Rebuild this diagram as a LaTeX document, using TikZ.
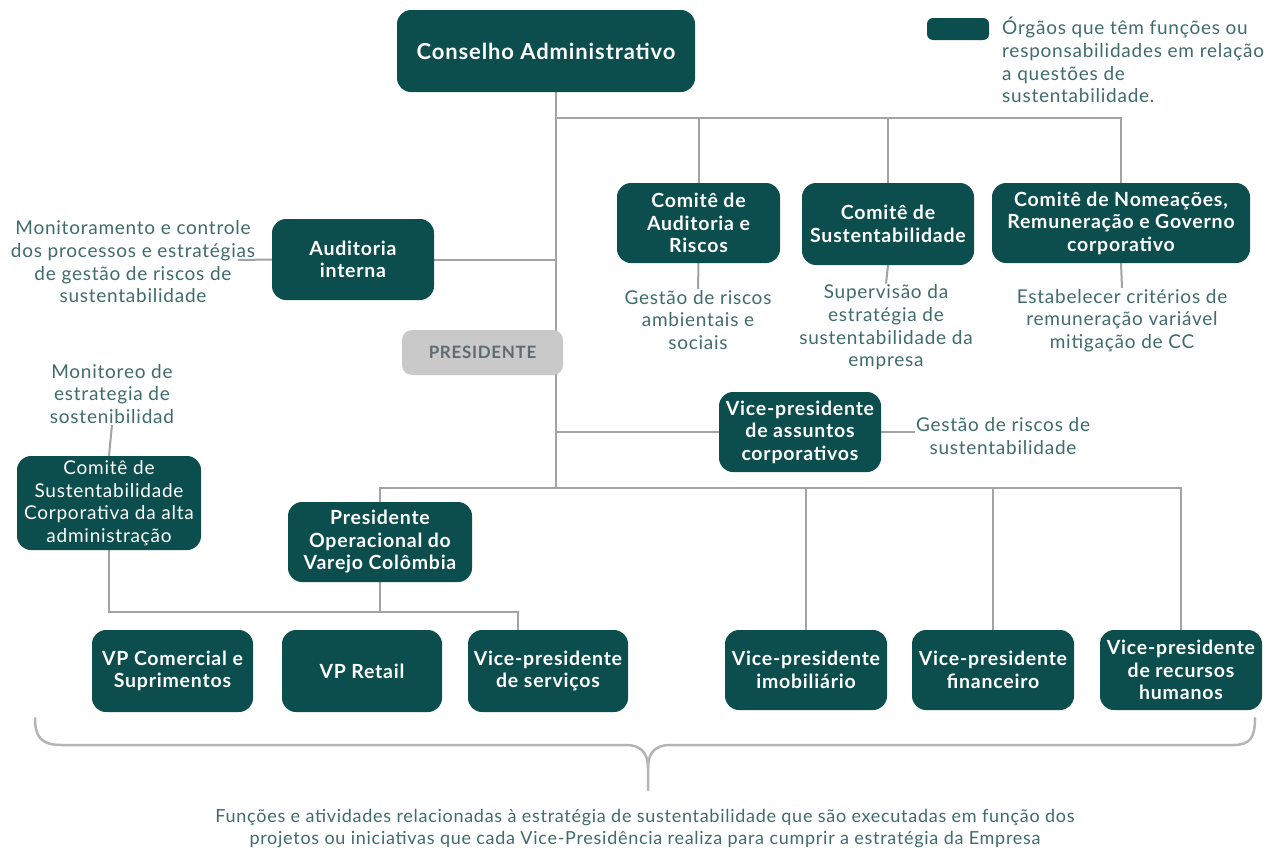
\documentclass[tikz,border=0pt]{standalone}
\usepackage{fontspec}
\setmainfont{Lato}[LetterSpace=4]
\usetikzlibrary{backgrounds}
\definecolor{teal1}{HTML}{0C4E4E}
\definecolor{anntext}{HTML}{3F6B6B}
\definecolor{linegrey}{HTML}{A3A3A3}
\definecolor{presgrey}{HTML}{C9C9C9}
\definecolor{prestext}{HTML}{5E6A70}
\begin{document}
\begin{tikzpicture}[x=1pt,y=-1pt,
 box/.style={rounded corners=14pt, fill=teal1, text=white, align=center, inner sep=0pt, font=\bfseries\fontsize{19.5}{22.5}\selectfont},
 ann/.style={align=center, text=anntext, inner sep=1pt, font=\fontsize{19}{22.7}\selectfont},
 conn/.style={draw=linegrey, line width=2pt},
 bracestyle/.style={draw=linegrey!80, line width=2.5pt, line cap=round},
]
\useasboundingbox (0,0) rectangle (1269,852);

% boxes
\node[box, minimum width=298, minimum height=82, font=\bfseries\fontsize{22}{25}\selectfont] (cons) at (546,51) {Conselho Administrativo};
\node[box, rounded corners=6pt, minimum width=62, minimum height=22] (legbox) at (958,29) {};
\node[ann, align=left, anchor=west] (legtxt) at (1001,60) {Órgãos que têm funções ou\\responsabilidades em relação\\a questões de\\sustentabilidade.};

\node[box, minimum width=163, minimum height=80] (aud) at (698.5,223) {Comitê de\\Auditoria e\\Riscos};
\node[box, minimum width=172, minimum height=82] (sus) at (888,224) {Comitê de\\Sustentabilidade};
\node[box, minimum width=258, minimum height=80] (nom) at (1121,223) {Comitê de Nomeações,\\Remuneração e Governo\\corporativo};
\node[box, minimum width=162, minimum height=81] (ai) at (353,259.5) {Auditoria\\interna};
\node[box, fill=presgrey, text=prestext, rounded corners=10pt, minimum width=161, minimum height=45, font=\bfseries\fontsize{17}{20}\selectfont] (pres) at (482.5,352.5) {PRESIDENTE};
\node[box, minimum width=162, minimum height=80] (vpac) at (800,432) {Vice-presidente\\de assuntos\\corporativos};
\node[box, minimum width=184, minimum height=94, font=\fontsize{19}{22.5}\selectfont] (csc) at (109,503) {Comitê de\\Sustentabilidade\\Corporativa da alta\\administração};
\node[box, minimum width=184, minimum height=80] (po) at (380,542) {Presidente\\Operacional do\\Varejo Colômbia};

\node[box, minimum width=161, minimum height=82] (vpcs) at (172.5,671) {VP Comercial e\\Suprimentos};
\node[box, minimum width=160, minimum height=82] (vpr) at (362,671) {VP Retail};
\node[box, minimum width=160, minimum height=82] (vps) at (548,671) {Vice-presidente\\de serviços};
\node[box, minimum width=162, minimum height=80] (vpi) at (806,670) {Vice-presidente\\imobiliário};
\node[box, minimum width=162, minimum height=80] (vpf) at (993,670) {Vice-presidente\\financeiro};
\node[box, minimum width=162, minimum height=80] (vprh) at (1181,670) {Vice-presidente\\de recursos\\humanos};

% annotations
\node[ann] (annai) at (133,262) {Monitoramento e controle\\dos processos e estratégias\\de gestão de riscos de\\sustentabilidade};
\node[ann] (annaud) at (698,320) {Gestão de riscos\\ambientais e\\sociais};
\node[ann] (annsus) at (886,327.5) {Supervisão da\\estratégia de\\sustentabilidade da\\empresa};
\node[ann] (annnom) at (1122,320.5) {Estabelecer critérios de\\remuneração variável\\mitigação de CC};
\node[ann] (annvpac) at (1003,436) {Gestão de riscos de\\sustentabilidade};
\node[ann] (anncsc) at (112,394) {Monitoreo de\\estrategia de\\sostenibilidad};
\node[ann, font=\fontsize{18}{22}\selectfont] (bottom) at (645,829) {Funções e atividades relacionadas à estratégia de sustentabilidade que são executadas em função dos\\projetos ou iniciativas que cada Vice-Presidência realiza para cumprir a estratégia da Empresa};

% coordinates
\coordinate (tx) at (556,0);
\coordinate (topbus) at (556,118);
\coordinate (botbus) at (556,488);
\coordinate (lowbus) at (518,612);
\coordinate (aiend) at (238,260);

\begin{scope}[on background layer]
\draw[conn] (cons.south -| tx) -- (botbus);
\draw[conn] (topbus) -| (nom.north);
\draw[conn] (aud.north |- topbus) -- (aud.north);
\draw[conn] (sus.north |- topbus) -- (sus.north);
\draw[conn] (aud.south) -- (annaud.north);
\draw[conn] (sus.south) -- (annsus.north);
\draw[conn] (nom.south) -- (annnom.north);
\draw[conn] (ai.east) -- (ai.east -| tx);
\draw[conn] (ai.west) -- (aiend);
\draw[conn] (vpac.west -| tx) -- (vpac.west);
\draw[conn] (vpac.east) -- (vpac.east -| annvpac.west);
\draw[conn] (po.north) |- (botbus);
\draw[conn] (botbus) -| (vprh.north);
\draw[conn] (vpi.north |- botbus) -- (vpi.north);
\draw[conn] (vpf.north |- botbus) -- (vpf.north);
\draw[conn] (anncsc.south) -- (csc.north);
\draw[conn] (csc.south) |- (lowbus) -- (lowbus |- vps.north);
\draw[conn] (po.south) -- (po.south |- lowbus);
\end{scope}

% brace
\draw[bracestyle] (35,718) .. controls (35,738) and (42,745) .. (62,745) -- (626,745) .. controls (640,745) and (648,752) .. (648,768) -- (648,790);
\draw[bracestyle] (648,768) .. controls (648,752) and (656,745) .. (670,745) -- (1233,745) .. controls (1250,745) and (1255,738) .. (1255,718);
\end{tikzpicture}
\end{document}
